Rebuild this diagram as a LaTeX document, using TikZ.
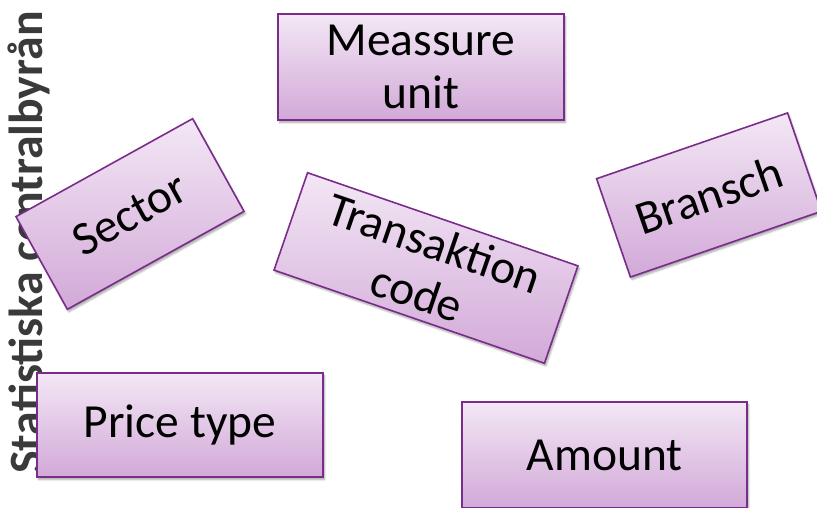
\documentclass[tikz,border=0pt]{standalone}
\usepackage{fontspec}
\setmainfont{Carlito}
\usetikzlibrary{shadows.blur}
\definecolor{boxtop}{HTML}{F3E7F5}
\definecolor{boxbot}{HTML}{D2A9D8}
\definecolor{boxline}{HTML}{7A2C8A}
\definecolor{sidetext}{HTML}{3A3A3A}
\tikzset{
  cardbox/.style={draw=boxline, line width=1.6pt, top color=boxtop, bottom color=boxbot,
    inner sep=0pt, align=center, text=black,
    font=\fontsize{47.5}{53}\selectfont,
    blur shadow={shadow xshift=1.5pt, shadow yshift=-2.5pt, shadow blur steps=6, shadow opacity=35}},
  sidelabel/.style={rotate=90, anchor=base west, inner sep=0pt, text=sidetext,
    font=\bfseries\fontsize{47.8}{52}\selectfont}
}
\begin{document}
\begin{tikzpicture}[x=1pt, y=-1pt]
\useasboundingbox (0,0) rectangle (817,508);
\node[sidelabel] (scb) at (42,474) {Statistiska centralbyrån};
\node[cardbox, minimum width=286pt, minimum height=106pt] (measure) at (421,67) {Meassure\\unit};
\node[cardbox, minimum width=202pt, minimum height=106pt, rotate=29] (sector) at (130,214) {Sector};
\node[cardbox, minimum width=286pt, minimum height=103pt, rotate=-19] (trans) at (426,268) {Transaktion\\code};
\node[cardbox, minimum width=202pt, minimum height=104pt, rotate=19] (bransch) at (709,195) {Bransch};
\node[cardbox, minimum width=286pt, minimum height=104pt] (price) at (180,425) {Price type};
\node[cardbox, minimum width=285pt, minimum height=106pt] (amount) at (604.5,455) {Amount};
\end{tikzpicture}
\end{document}
